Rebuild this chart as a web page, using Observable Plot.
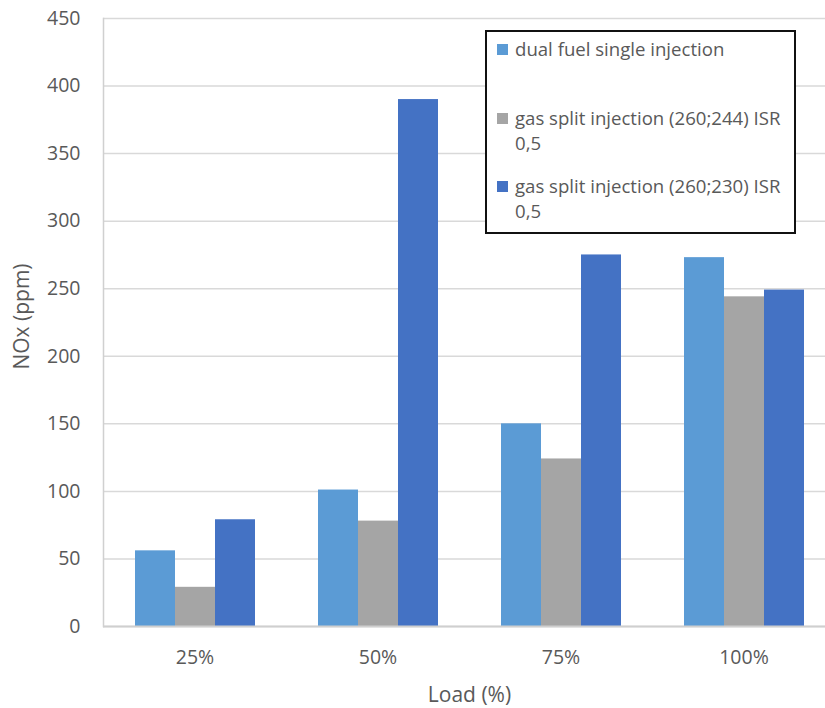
<!DOCTYPE html>
<html>
<head>
<meta charset="utf-8">
<script src="https://cdn.jsdelivr.net/npm/d3@7"></script>
<script src="https://cdn.jsdelivr.net/npm/@observablehq/plot@0.6"></script>
<style>
  html, body { margin: 0; padding: 0; background: #fff; overflow: hidden; }
  #wrap { position: relative; width: 825px; height: 708px; font-family: "Open Sans", sans-serif; }
  #legend { position: absolute; left: 485px; top: 30px; width: 307px; height: 200px; border: 2px solid #111; background: #fff; box-sizing: content-box; }
  .entry { position: absolute; left: 28px; width: 277px; font-size: 18.6px; line-height: 25px; color: #595959; }
  .sw { position: absolute; left: -18px; top: 8px; width: 11px; height: 11px; }
</style>
</head>
<body>
<div id="wrap"></div>
<script>
const loads = ["25%", "50%", "75%", "100%"];
const seriesNames = [
  "dual fuel single injection",
  "gas split injection (260;244) ISR 0,5",
  "gas split injection (260;230) ISR 0,5"
];
const dualFuelSingle = [56, 101, 150, 273];
const gasSplit244 = [29, 78, 124, 244];
const gasSplit230 = [79, 390, 275, 249];
const yTicks = [0, 50, 100, 150, 200, 250, 300, 350, 400, 450];
const colors = ["#5B9BD5", "#A5A5A5", "#4472C4"];
const xTitle = "Load (%)";
const yTitle = "NOx (ppm)";

const seriesValues = [dualFuelSingle, gasSplit244, gasSplit230];
const data = [];
loads.forEach((load, i) => {
  seriesNames.forEach((s, j) => data.push({load, series: s, value: seriesValues[j][i]}));
});

const chart = Plot.plot({
  width: 825,
  height: 708,
  marginLeft: 103,
  marginRight: -10,
  marginTop: 18,
  marginBottom: 82,
  style: {fontFamily: "'Open Sans', sans-serif", fontSize: "19px", color: "#595959", background: "#fff", overflow: "visible"},
  fx: {domain: loads, padding: 0, axis: null},
  x: {domain: seriesNames, paddingInner: 0, paddingOuter: 0.75, axis: null},
  y: {domain: [0, 450], axis: null},
  color: {domain: seriesNames, range: colors},
  marks: [
    Plot.ruleY(yTicks, {stroke: "#d9d9d9", strokeWidth: 1.5}),
    Plot.barY(data, {fx: "load", x: "series", y: "value", fill: "series"}),
    Plot.ruleY([0], {stroke: "#cfcfcf", strokeWidth: 2}),
    Plot.frame({anchor: "left", facetAnchor: "left", stroke: "#d0d0d0", strokeWidth: 1.5}),
    Plot.axisY({ticks: yTicks, tickSize: 0, tickPadding: 23, fontSize: 19.5, label: null}),
    Plot.axisFx({anchor: "bottom", tickSize: 0, tickPadding: 24, fontSize: 19.5, label: null}),
    Plot.text([xTitle], {facet: "super", frameAnchor: "bottom", text: d => d, dy: 69, fontSize: 21, textAnchor: "middle", lineAnchor: "middle", fill: "#595959"}),
    Plot.text([yTitle], {facet: "super", frameAnchor: "left", text: d => d, dx: -81, dy: -6, rotate: -90, fontSize: 21, textAnchor: "middle", lineAnchor: "middle", fill: "#595959"})
  ]
});
const wrap = document.getElementById("wrap");
wrap.appendChild(chart);

const legend = document.createElement("div");
legend.id = "legend";
const tops = [4, 73, 141];
seriesNames.forEach((s, j) => {
  const e = document.createElement("div");
  e.className = "entry";
  e.style.top = tops[j] + "px";
  const sw = document.createElement("div");
  sw.className = "sw";
  sw.style.background = colors[j];
  e.appendChild(sw);
  e.appendChild(document.createTextNode(s));
  legend.appendChild(e);
});
wrap.appendChild(legend);
</script>
</body>
</html>
